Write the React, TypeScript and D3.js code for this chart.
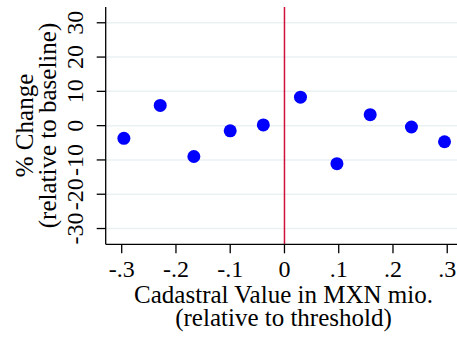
import React from "react";
import * as d3 from "d3";

const xValues = [-0.296, -0.229, -0.167, -0.1, -0.039, 0.0295, 0.0967, 0.158, 0.234, 0.295];
const yValues = [-3.7, 5.9, -9.0, -1.5, 0.2, 8.3, -11.1, 3.2, -0.4, -4.7];
const xTicks = [-0.3, -0.2, -0.1, 0, 0.1, 0.2, 0.3];
const xTickLabels = ["-.3", "-.2", "-.1", "0", ".1", ".2", ".3"];
const yTicks = [-30, -20, -10, 0, 10, 20, 30];
const yTickLabels = ["-30", "-20", "-10", "0", "10", "20", "30"];

const W = 457;
const H = 339;
const left = 105.7;
const right = 457;
const top = 7;
const bottom = 244.3;
const font = "'Liberation Serif', 'Times New Roman', serif";

export default function App() {
  const x = d3.scaleLinear().domain([-0.3295, 0.318]).range([left, right]);
  const y = d3.scaleLinear().domain([-34.6, 34.6]).range([bottom, top]);
  return (
    <svg width={W} height={H} style={{ position: "absolute", left: 0, top: 0, background: "#fff" }}>
      {yTicks.map((t) => (
        <line key={"g" + t} x1={left} x2={right} y1={y(t)} y2={y(t)} stroke="#eaf1f3" strokeWidth={1.5} />
      ))}
      <line x1={x(0)} x2={x(0)} y1={top} y2={bottom} stroke="#d0103a" strokeWidth={1.5} />
      {xValues.map((v, i) => (
        <circle key={i} cx={x(v)} cy={y(yValues[i])} r={6.5} fill="#0000ff" />
      ))}
      <line x1={left} x2={left} y1={top} y2={bottom} stroke="#000" strokeWidth={1.3} />
      <line x1={left} x2={right} y1={bottom} y2={bottom} stroke="#000" strokeWidth={1.3} />
      {yTicks.map((t, i) => (
        <g key={"y" + t}>
          <line x1={left - 9} x2={left} y1={y(t)} y2={y(t)} stroke="#000" strokeWidth={1.3} />
          <text
            transform={`translate(83,${y(t)}) rotate(-90)`}
            textAnchor="middle"
            fontFamily={font}
            fontSize={24}
          >
            {yTickLabels[i]}
          </text>
        </g>
      ))}
      {xTicks.map((t, i) => (
        <g key={"x" + t}>
          <line x1={x(t)} x2={x(t)} y1={bottom} y2={bottom + 9} stroke="#000" strokeWidth={1.3} />
          <text x={x(t)} y={277} textAnchor="middle" fontFamily={font} fontSize={24}>
            {xTickLabels[i]}
          </text>
        </g>
      ))}
      <text x={283.5} y={303} textAnchor="middle" fontFamily={font} fontSize={25}>
        Cadastral Value in MXN mio.
      </text>
      <text x={283.5} y={326} textAnchor="middle" fontFamily={font} fontSize={25}>
        (relative to threshold)
      </text>
      <text transform={`translate(33,125.5) rotate(-90)`} textAnchor="middle" fontFamily={font} fontSize={25}>
        % Change
      </text>
      <text transform={`translate(56,125.5) rotate(-90)`} textAnchor="middle" fontFamily={font} fontSize={25}>
        (relative to baseline)
      </text>
    </svg>
  );
}
